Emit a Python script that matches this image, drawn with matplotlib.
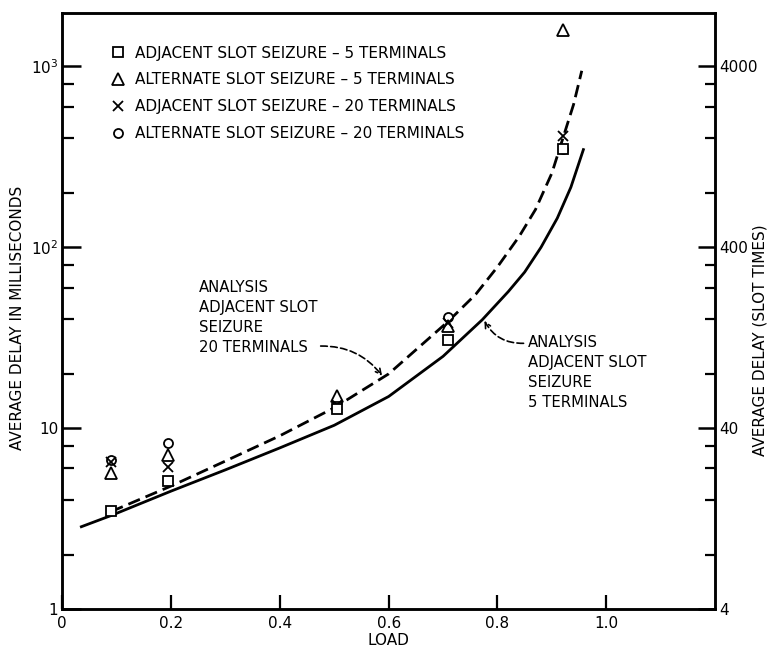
import numpy as np
import matplotlib.pyplot as plt
from matplotlib.ticker import FixedLocator, NullFormatter

plt.rcParams['font.family'] = ['DejaVu Sans']
plt.rcParams['mathtext.fontset'] = 'dejavusans'

# measured delays (ms) at each offered load
load = [0.09, 0.195, 0.505, 0.71, 0.92]
adj_5 = [3.5, 5.1, 12.8, 30.7, 348]
alt_5 = [5.7, 7.1, 15.0, 37, 1580]
adj_20 = [6.5, 6.1, 13.5, 38, 412]
alt_20 = [6.7, 8.3, 14.0, 41, 350]

# analysis curves, adjacent slot seizure
load_5 = [0.035, 0.09, 0.2, 0.3, 0.4, 0.5, 0.6, 0.7, 0.772, 0.82, 0.85, 0.88, 0.91, 0.935, 0.958]
delay_5 = [2.86, 3.3, 4.5, 5.9, 7.8, 10.4, 15.0, 25.0, 39.8, 57, 73, 100, 145, 215, 347]
load_20 = [0.09, 0.2, 0.3, 0.4, 0.5, 0.6, 0.709, 0.76, 0.8, 0.84, 0.87, 0.9, 0.92, 0.94, 0.955]
delay_20 = [3.47, 4.8, 6.6, 9.1, 13.0, 20.0, 38.9, 55, 78, 115, 162, 257, 398, 617, 946]

ylim_ms = (1, 1980)
slot_factor = 4  # one slot time = 0.25 ms

fig = plt.figure(figsize=(7.72, 6.53), dpi=100)
ax = fig.add_axes([0.0807, 0.0669, 0.8455, 0.9136])

ax.plot(load_5, delay_5, color='black', lw=2.0, solid_joinstyle='round', zorder=2)
dash_line, = ax.plot(load_20, delay_20, color='black', lw=2.0, zorder=2)
dash_line.set_dashes([4.5, 2.2])

mk = dict(color='black', mfc='white', mec='black', mew=1.3, ls='none')
h_ci, = ax.plot(load, alt_20, marker='o', ms=6.5, zorder=3,
                label='ALTERNATE SLOT SEIZURE \u2013 20 TERMINALS', **mk)
h_tr, = ax.plot(load, alt_5, marker='^', ms=8, zorder=3,
                label='ALTERNATE SLOT SEIZURE \u2013 5 TERMINALS', **mk)
h_x, = ax.plot(load, adj_20, marker='x', ms=6.5, zorder=4,
               label='ADJACENT SLOT SEIZURE \u2013 20 TERMINALS', **mk)
h_sq, = ax.plot(load, adj_5, marker='s', ms=7, zorder=5,
                label='ADJACENT SLOT SEIZURE \u2013 5 TERMINALS', **mk)

ax.set_yscale('log')
ax.set_xlim(0, 1.2)
ax.set_ylim(*ylim_ms)

ax.set_xticks([0, 0.2, 0.4, 0.6, 0.8, 1.0])
ax.set_xticklabels(['0', '0.2', '0.4', '0.6', '0.8', '1.0'])
ax.set_yticks([1, 10, 100, 1000])
ax.set_yticklabels(['1', '10', r'$\mathregular{10^2}$', r'$\mathregular{10^3}$'])
ax.yaxis.set_minor_locator(FixedLocator([m * 10.0 ** k for k in range(0, 3) for m in (2, 4, 6, 8)]))
ax.yaxis.set_minor_formatter(NullFormatter())

ax.tick_params(axis='x', direction='in', length=10, width=1.6, labelsize=11, pad=5)
ax.tick_params(axis='y', which='major', direction='in', length=14, width=1.8, labelsize=11, pad=3)
ax.tick_params(axis='y', which='minor', direction='in', length=8.5, width=1.6)
for s in ax.spines.values():
    s.set_linewidth(1.8)

ax.set_xlabel('LOAD', fontsize=11, labelpad=1)
ax.set_ylabel('AVERAGE DELAY IN MILLISECONDS', fontsize=11)
ax.yaxis.set_label_coords(-0.057, 0.488)

# right axis in slot times
ax2 = ax.twinx()
ax2.set_yscale('log')
ax2.set_ylim(ylim_ms[0] * slot_factor, ylim_ms[1] * slot_factor)
ax2.set_yticks([4, 40, 400, 4000])
ax2.set_yticklabels(['4', '40', '400', '4000'])
ax2.yaxis.set_minor_locator(FixedLocator([slot_factor * m * 10.0 ** k for k in range(0, 3) for m in (2, 4, 6, 8)]))
ax2.yaxis.set_minor_formatter(NullFormatter())
ax2.tick_params(axis='y', which='major', direction='in', length=12, width=1.8, labelsize=11, pad=3)
ax2.tick_params(axis='y', which='minor', direction='in', length=7.5, width=1.6)
ax2.set_ylabel('AVERAGE DELAY (SLOT TIMES)', fontsize=11)
ax2.yaxis.set_label_coords(1.0567, 0.451)
for s in ax2.spines.values():
    s.set_linewidth(1.8)

ax.legend(handles=[h_sq, h_tr, h_x, h_ci], loc='upper left', bbox_to_anchor=(0.0741, 0.945),
          frameon=False, fontsize=11, handlelength=1.0, handletextpad=0.6,
          labelspacing=0.78, borderpad=0, borderaxespad=0)

txt = dict(fontsize=10.7, linespacing=1.42, va='top', ha='left')
ax.text(0.251, 66, 'ANALYSIS\nADJACENT SLOT\nSEIZURE\n20 TERMINALS', **txt)
ax.annotate('', xy=(0.588, 19.5), xytext=(0.475, 28.5),
            arrowprops=dict(arrowstyle='->', lw=1.2, ls=(0, (4, 2)),
                            connectionstyle='arc3,rad=-0.25', shrinkA=0, shrinkB=0))
ax.text(0.856, 33, 'ANALYSIS\nADJACENT SLOT\nSEIZURE\n5 TERMINALS', **txt)
ax.annotate('', xy=(0.776, 39.3), xytext=(0.848, 29.5),
            arrowprops=dict(arrowstyle='->', lw=1.2, ls=(0, (4, 2)),
                            connectionstyle='arc3,rad=-0.3', shrinkA=0, shrinkB=0))

fig.savefig('out.png', dpi=100)
